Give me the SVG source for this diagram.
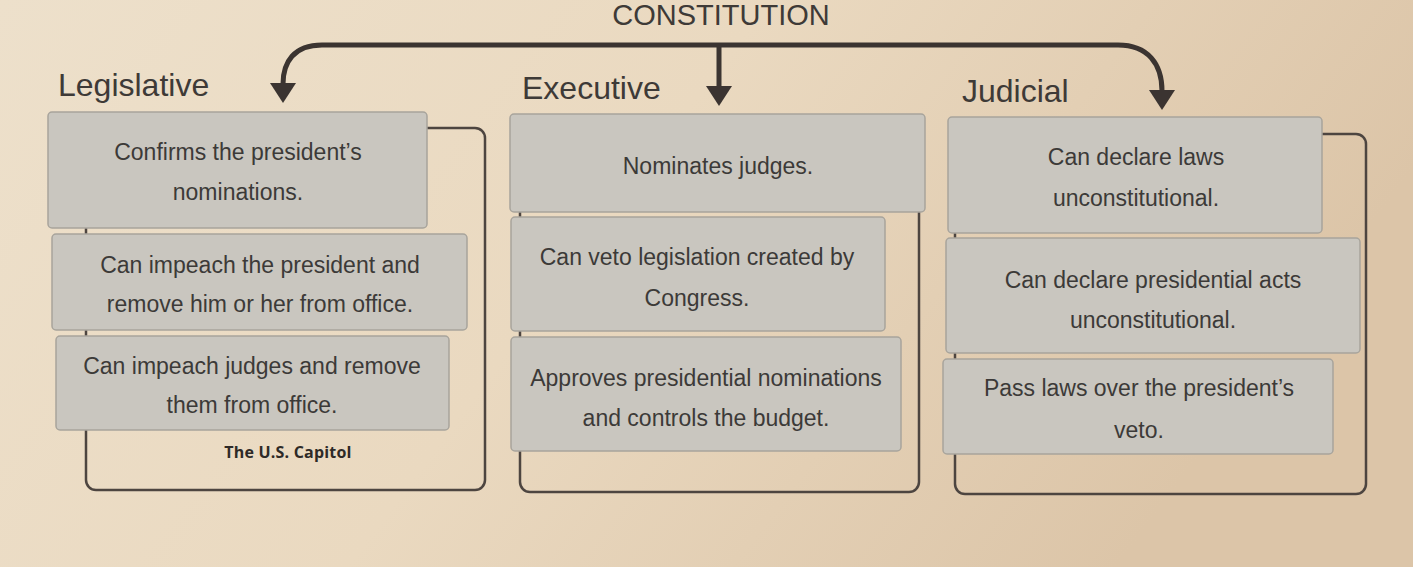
<svg xmlns="http://www.w3.org/2000/svg" width="1413" height="567" viewBox="0 0 1413 567">
  <defs>
    <linearGradient id="bg" x1="0" y1="0" x2="1" y2="0.3">
      <stop offset="0" stop-color="#ede0cb"/>
      <stop offset="0.5" stop-color="#ead9c0"/>
      <stop offset="1" stop-color="#dcc5a8"/>
    </linearGradient>
    <marker id="arr" viewBox="0 0 20 26" refX="1" refY="13" markerWidth="20" markerHeight="26" markerUnits="userSpaceOnUse" orient="auto">
      <path d="M0,0 L20,13 L0,26 z" fill="#3b3431"/>
    </marker>
    <style>
      .frame { fill: none; stroke: #4d4540; stroke-width: 2.5; }
      .card { fill: #c9c6bf; stroke: #a8a49c; stroke-width: 1.5; }
      .txt { font-family: "Liberation Sans", Arial, sans-serif; font-size: 23px; fill: #3c3a38; text-anchor: middle; }
      .head { font-family: "Liberation Sans", Arial, sans-serif; font-size: 32px; fill: #3e3a37; }
      .conn { fill: none; stroke: #3b3431; stroke-width: 5; }
    </style>
  </defs>
  <rect x="0" y="0" width="1413" height="567" fill="url(#bg)"/>

  <text x="721" y="25" class="head" text-anchor="middle" style="font-size:29px">CONSTITUTION</text>

  <g id="connectors">
    <path class="conn" d="M 719 45 L 322 45 C 294 45 283 62 283 84" marker-end="url(#arr)"/>
    <path class="conn" d="M 719 45 L 719 87" marker-end="url(#arr)"/>
    <path class="conn" d="M 719 45 L 1118 45 C 1148 45 1162 64 1162 91" marker-end="url(#arr)"/>
  </g>

  <g id="legislative">
    <text x="58" y="96" class="head">Legislative</text>
    <rect class="frame" x="86" y="128" width="399" height="362" rx="10"/>
    <g id="leg1">
      <rect class="card" x="48" y="112" width="379" height="116" rx="4"/>
      <text class="txt" x="238" y="160">Confirms the president’s</text>
      <text class="txt" x="238" y="200">nominations.</text>
    </g>
    <g id="leg2">
      <rect class="card" x="52" y="234" width="415" height="96" rx="4"/>
      <text class="txt" x="260" y="273">Can impeach the president and</text>
      <text class="txt" x="260" y="312">remove him or her from office.</text>
    </g>
    <g id="leg3">
      <rect class="card" x="56" y="336" width="393" height="94" rx="4"/>
      <text class="txt" x="252" y="374">Can impeach judges and remove</text>
      <text class="txt" x="252" y="413">them from office.</text>
    </g>
    <text x="288" y="458" font-family="'Open Sans', 'Liberation Sans', sans-serif" font-weight="bold" font-size="16" fill="#2e2a27" text-anchor="middle" letter-spacing="0.2">The U.S. Capitol</text>
  </g>

  <g id="executive">
    <text x="522" y="99" class="head">Executive</text>
    <rect class="frame" x="520" y="150" width="399" height="342" rx="10"/>
    <g id="exe1">
      <rect class="card" x="510" y="114" width="415" height="98" rx="4"/>
      <text class="txt" x="718" y="174">Nominates judges.</text>
    </g>
    <g id="exe2">
      <rect class="card" x="511" y="217" width="374" height="114" rx="4"/>
      <text class="txt" x="697" y="265">Can veto legislation created by</text>
      <text class="txt" x="697" y="306">Congress.</text>
    </g>
    <g id="exe3">
      <rect class="card" x="511" y="337" width="390" height="114" rx="4"/>
      <text class="txt" x="706" y="386">Approves presidential nominations</text>
      <text class="txt" x="706" y="426">and controls the budget.</text>
    </g>
  </g>

  <g id="judicial">
    <text x="962" y="102" class="head">Judicial</text>
    <rect class="frame" x="955" y="134" width="411" height="360" rx="10"/>
    <g id="jud1">
      <rect class="card" x="948" y="117" width="374" height="116" rx="4"/>
      <text class="txt" x="1136" y="165">Can declare laws</text>
      <text class="txt" x="1136" y="206">unconstitutional.</text>
    </g>
    <g id="jud2">
      <rect class="card" x="946" y="238" width="414" height="115" rx="4"/>
      <text class="txt" x="1153" y="288">Can declare presidential acts</text>
      <text class="txt" x="1153" y="328">unconstitutional.</text>
    </g>
    <g id="jud3">
      <rect class="card" x="943" y="359" width="390" height="95" rx="4"/>
      <text class="txt" x="1139" y="396">Pass laws over the president’s</text>
      <text class="txt" x="1139" y="438">veto.</text>
    </g>
  </g>
</svg>
